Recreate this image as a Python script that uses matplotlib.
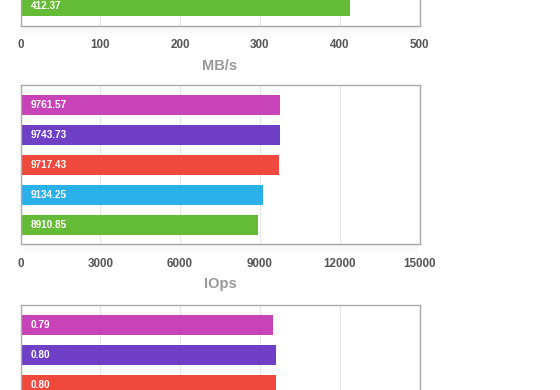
import matplotlib
matplotlib.use('Agg')
import matplotlib.pyplot as plt
from matplotlib.patches import Rectangle

plt.rcParams['font.family'] = ['Liberation Sans', 'DejaVu Sans']

# colours of the five series, top bar to bottom bar
colors = ['#c943b8', '#6f3fc6', '#ef493e', '#2ab1ea', '#64bb35']

# top panel: only the last bar is inside the picture
mbps_values = [None, None, None, None, 412.37]
mbps_labels = ['', '', '', '', '412.37']
mbps_ticks = [0, 100, 200, 300, 400, 500]

iops_values = [9761.57, 9743.73, 9717.43, 9134.25, 8910.85]
iops_labels = ['9761.57', '9743.73', '9717.43', '9134.25', '8910.85']
iops_ticks = [0, 3000, 6000, 9000, 12000, 15000]

# bottom panel: only the first three bars are inside the picture
third_values = [0.79, 0.80, 0.80, None, None]
third_labels = ['0.79', '0.80', '0.80', '', '']
third_ticks = [0, 0.25, 0.5, 0.75, 1.0, 1.25]

W, H = 560, 390
fig = plt.figure(figsize=(W / 100, H / 100), dpi=100)
fig.patch.set_facecolor('white')


def add_panel(top_px, values, labels, ticks, title, show_ticks=True):
    left, width, height = 20.5, 399, 159
    ax = fig.add_axes([left / W, (H - top_px - height) / H, width / W, height / H])
    # soft shadow under the frame
    for k in range(7):
        fig.patches.append(Rectangle(((left + 2) / W, (H - top_px - height - 1.5 * (k + 1)) / H),
                                     (width - 4) / W, 1.5 / H, transform=fig.transFigure,
                                     facecolor='#000000', alpha=0.035 * (7 - k) / 7,
                                     edgecolor='none', zorder=0))
    for i, v in enumerate(values):
        if v is None:
            continue
        ax.barh(i, v, height=0.667, color=colors[i], zorder=2)
        ax.annotate(labels[i], xy=(0, i), xytext=(10, 0), textcoords='offset pixels',
                    ha='left', va='center', color='white', fontsize=7.2,
                    fontweight='bold', zorder=3)
    ax.set_ylim(4.65, -0.65)
    ax.set_xlim(ticks[0], ticks[-1])
    ax.set_xticks(ticks)
    ax.set_xticklabels([f'{t:g}' for t in ticks])
    ax.set_yticks([])
    ax.grid(axis='x', color='#e6e6e6', linewidth=0.8, zorder=1)
    ax.set_axisbelow(True)
    for s in ax.spines.values():
        s.set_color('#aaaaaa')
        s.set_linewidth(1.0)
    ax.tick_params(axis='x', length=0, pad=9.8, labelsize=8.4, labelcolor='#555555',
                   labelbottom=show_ticks)
    for lab in ax.get_xticklabels():
        lab.set_fontweight('bold')
    if title:
        ax.set_xlabel(title, fontsize=10.5, color='#999999', fontweight='bold', labelpad=5.3)
    return ax


add_panel(-133.2, mbps_values, mbps_labels, mbps_ticks, 'MB/s')
add_panel(85.3, iops_values, iops_labels, iops_ticks, 'IOps')
# its tick labels and title lie below the picture
add_panel(305.3, third_values, third_labels, third_ticks, '', show_ticks=False)

fig.savefig('out.png', dpi=100)
